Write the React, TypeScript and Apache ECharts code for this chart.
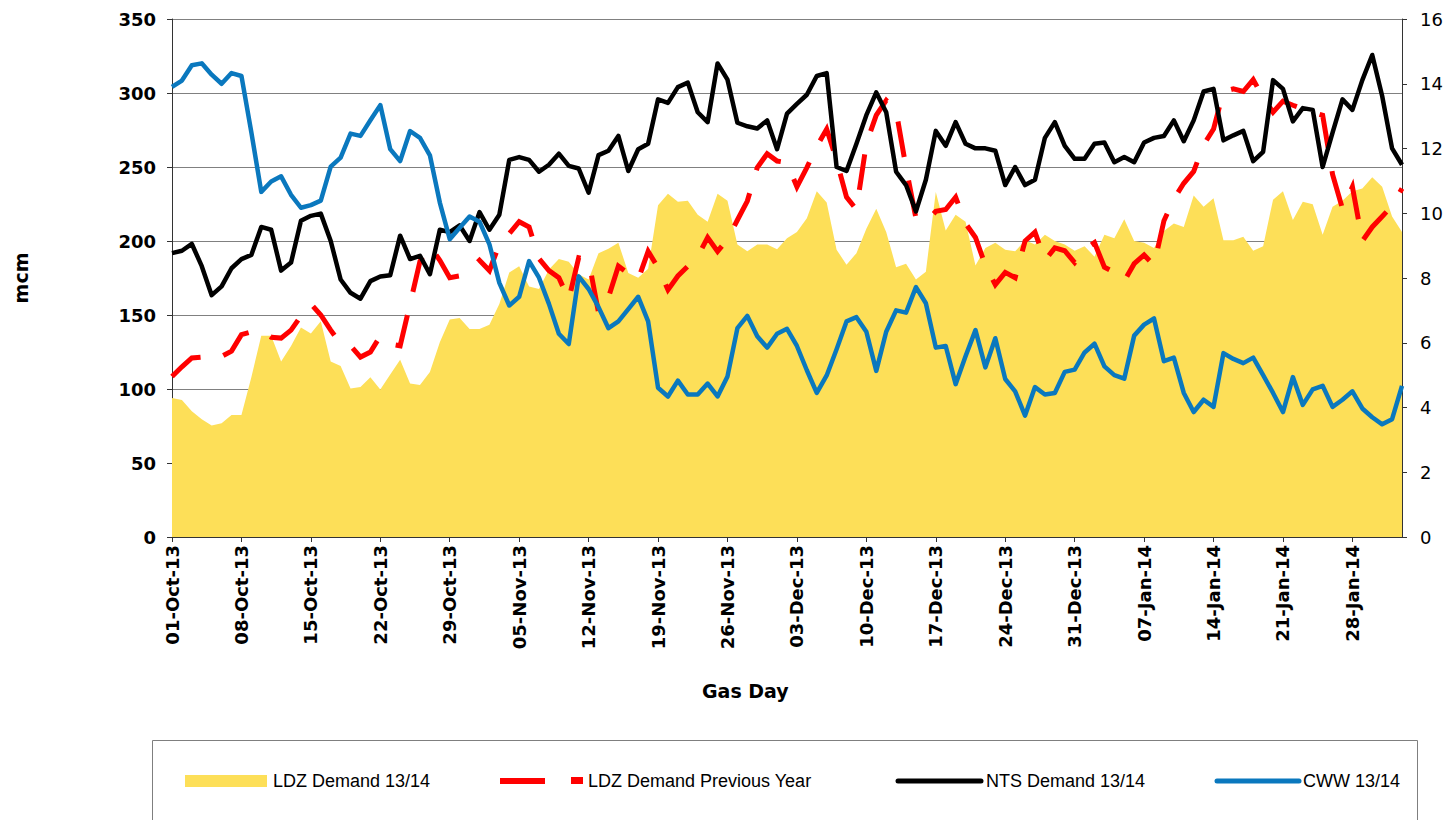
import React, { useEffect, useRef } from "react";
import * as echarts from "echarts";

// ---- Data ----
const START_DATE = "2013-10-01";
const DAY_COUNT = 125;
const MONTHS = ["Jan", "Feb", "Mar", "Apr", "May", "Jun", "Jul", "Aug", "Sep", "Oct", "Nov", "Dec"];

const ldzDemand = [
  94, 92.6, 85, 79.6, 75.3, 76.8, 82.4, 82.4, 108, 136, 136, 118.6, 129, 141.5, 137.5, 145.7, 118.6, 115.5, 100.4, 101.3,
  108, 99.7, 109.8, 119.7, 103.7, 102.7, 111.5, 131.6, 146.9, 148, 140.5, 140.5, 143.4, 157.5, 178.8, 183, 169.3, 167.5, 180.7, 187.8,
  185.9, 177.6, 174, 191.8, 194.8, 198.9, 178.3, 175.2, 181.2, 224.1, 231.9, 226.5, 227.2, 217.8, 213, 231.9, 227.2, 197.7, 193, 197.7,
  197.7, 194.5, 201.9, 206, 215.4, 233.6, 226, 194.1, 184, 191.8, 208.3, 221.8, 206, 182.3, 184.7, 174, 179.3, 233.1, 207.1, 217.8,
  213, 183.5, 195.3, 198.9, 194.1, 193, 200.5, 197.7, 204.3, 200, 197.7, 193.4, 196.5, 189.4, 204.3, 201.9, 214.7, 200, 198.9, 195.3,
  206.7, 211.9, 209.5, 230.7, 223.2, 228.9, 200.5, 200.5, 202.9, 193.4, 196.5, 227.9, 233.6, 214.2, 226.5, 224.8, 204.3, 223.2, 227.2, 233.6,
  235.5, 243, 236.6, 216.6, 206,
];

const ldzPrevYear = [
  108.4, 115, 121, 121.6, 124, 122, 125.6, 136.7, 138.6, 139.8, 135, 134.4, 139.8, 149.3, 157.5, 150, 139.8, 130.4, 129.2, 121.6,
  125, 135.8, 130.4, 129.2, 157.5, 186.3, 196.5, 187, 175.2, 176.4, 180, 187, 180, 197.7, 205, 213, 209.5, 188, 180, 175.2,
  160.4, 188.7, 187, 151.6, 162, 183, 178, 174, 193, 182, 167, 176.4, 183, 189.4, 202.4, 193, 201.2, 214.2, 227, 249.6,
  259, 254, 253, 236.6, 249.6, 263.8, 275.6, 254.4, 229.6, 221.3, 266, 285, 295, 288, 249.6, 215.4, 213, 220, 221.3, 229.6,
  211.9, 202.4, 183.5, 170.5, 178.8, 175.2, 200, 206, 187, 195.3, 193.4, 185.4, 194.1, 198.9, 182.3, 178.8, 172.9, 184.7, 190.6, 183.5,
  213.7, 228.4, 239, 247, 265, 275.6, 301, 302.8, 301, 309, 297, 287, 294.5, 291.7, 289.3, 287, 285, 245, 221.8, 236.6,
  200, 209.5, 216.6, 223.7, 235.5,
];

const ntsDemand = [
  191.8, 193.4, 198, 183, 163.4, 169.3, 181.6, 187.8, 190.6, 209.5, 207.6, 180, 185.4, 213.7, 217, 218.5, 200, 174, 165, 161,
  172.9, 176, 176.9, 203.6, 187.8, 190, 177.6, 207.6, 206, 210.5, 200, 219.5, 207.6, 217.8, 254.8, 256.7, 254.8, 246.8, 251.5, 259,
  250.8, 249, 232.6, 258, 261, 271, 247.3, 262, 265.7, 295.7, 293.3, 304, 307, 287, 280.3, 320, 309, 279.9, 277.5, 276,
  281.5, 262, 286, 292.6, 298.8, 311.5, 313.4, 250, 247.3, 265.7, 285, 300.4, 287, 246.8, 237.8, 220, 241.4, 274.4, 264.3, 280.3,
  265.7, 262.6, 262.6, 261, 237.8, 250, 237.8, 241.4, 269.7, 280.3, 264.3, 255.5, 255.5, 265.7, 266.6, 253.2, 256.7, 253.2, 266.6, 269.7,
  271, 281.5, 267.4, 281.5, 301, 302.8, 268, 271.4, 274.4, 253.9, 260.3, 308.7, 302.8, 280.8, 289.8, 288.6, 250, 273.3, 295.7, 288.6,
  308.7, 325.7, 298, 262.6, 251.5,
];

const cww = [
  13.9, 14.1, 14.57, 14.63, 14.28, 14.0, 14.33, 14.24, 12.5, 10.66, 10.98, 11.14, 10.57, 10.17, 10.25, 10.39, 11.44, 11.72, 12.46, 12.39,
  12.87, 13.34, 11.98, 11.61, 12.54, 12.33, 11.79, 10.33, 9.2, 9.55, 9.9, 9.74, 9.04, 7.85, 7.15, 7.42, 8.52, 8.01, 7.2, 6.28,
  5.96, 8.05, 7.66, 7.1, 6.45, 6.66, 7.04, 7.42, 6.66, 4.61, 4.34, 4.83, 4.4, 4.4, 4.74, 4.34, 4.96, 6.45, 6.83, 6.2,
  5.85, 6.28, 6.43, 5.9, 5.15, 4.45, 4.99, 5.8, 6.66, 6.79, 6.34, 5.13, 6.34, 7.0, 6.93, 7.72, 7.22, 5.85, 5.9, 4.72,
  5.58, 6.39, 5.24, 6.14, 4.88, 4.5, 3.75, 4.63, 4.4, 4.45, 5.1, 5.17, 5.7, 5.97, 5.27, 5.0, 4.89, 6.22, 6.56, 6.75,
  5.43, 5.54, 4.45, 3.86, 4.24, 4.02, 5.68, 5.5, 5.37, 5.54, 5.0, 4.45, 3.86, 4.94, 4.08, 4.56, 4.67, 4.02, 4.24, 4.5,
  3.97, 3.7, 3.48, 3.64, 4.67,
];

const leftAxisTicks = { min: 0, max: 350, interval: 50 };
const rightAxisTicks = { min: 0, max: 16, interval: 2 };

const seriesNames = ["LDZ Demand 13/14", "LDZ Demand Previous Year", "NTS Demand 13/14", "CWW 13/14"];
const yAxisTitle = "mcm";
const xAxisTitle = "Gas Day";

function buildDates(): string[] {
  const out: string[] = [];
  const [y, m, d] = START_DATE.split("-").map(Number);
  for (let i = 0; i < DAY_COUNT; i++) {
    const dt = new Date(Date.UTC(y, m - 1, d + i));
    const dd = String(dt.getUTCDate()).padStart(2, "0");
    const yy = String(dt.getUTCFullYear()).slice(2);
    out.push(`${dd}-${MONTHS[dt.getUTCMonth()]}-${yy}`);
  }
  return out;
}

const YELLOW = "#FDDF58";
const RED = "#FF0000";
const BLACK = "#000000";
const BLUE = "#0A78BE";

export default function App() {
  const ref = useRef<HTMLDivElement>(null);

  useEffect(() => {
    if (!ref.current) return;
    const chart = echarts.init(ref.current, undefined, { renderer: "svg" });
    const dates = buildDates();
    const legendFont = { fontFamily: "Liberation Sans", fontSize: 18, fill: "#000" };
    const legendY = 781;

    chart.setOption({
      animation: false,
      backgroundColor: "#ffffff",
      grid: { left: 172, right: 47, top: 19, bottom: 283, containLabel: false },
      xAxis: {
        type: "category",
        data: dates,
        boundaryGap: false,
        axisLine: { show: true, lineStyle: { color: "#333", width: 1 } },
        axisTick: { show: true, length: 5, interval: (i: number) => i % 7 === 0, lineStyle: { color: "#333" } },
        axisLabel: {
          interval: (i: number) => i % 7 === 0,
          rotate: 90,
          margin: 8,
          color: "#000",
          fontFamily: "DejaVu Sans",
          fontWeight: "bold",
          fontSize: 18,
        },
        splitLine: { show: false },
      },
      yAxis: [
        {
          type: "value",
          min: leftAxisTicks.min,
          max: leftAxisTicks.max,
          interval: leftAxisTicks.interval,
          name: yAxisTitle,
          nameLocation: "middle",
          nameRotate: 90,
          nameGap: 142,
          nameTextStyle: { fontFamily: "DejaVu Sans", fontWeight: "bold", fontSize: 19, color: "#000" },
          axisLine: { show: true, lineStyle: { color: "#333", width: 1 } },
          axisTick: { show: true, length: 5, lineStyle: { color: "#333" } },
          axisLabel: { margin: 16, color: "#000", fontFamily: "DejaVu Sans", fontWeight: "bold", fontSize: 18 },
          splitLine: { show: true, lineStyle: { color: "#808080", width: 1 } },
        },
        {
          type: "value",
          min: rightAxisTicks.min,
          max: rightAxisTicks.max,
          interval: rightAxisTicks.interval,
          position: "right",
          axisLine: { show: true, lineStyle: { color: "#333", width: 1 } },
          axisTick: { show: true, length: 5, lineStyle: { color: "#333" } },
          axisLabel: { margin: 18, color: "#000", fontFamily: "DejaVu Sans", fontSize: 18 },
          splitLine: { show: false },
        },
      ],
      series: [
        {
          name: seriesNames[0],
          type: "line",
          data: ldzDemand,
          yAxisIndex: 0,
          showSymbol: false,
          symbol: "none",
          lineStyle: { width: 0 },
          areaStyle: { color: YELLOW, opacity: 1 },
          silent: true,
        },
        {
          name: seriesNames[1],
          type: "line",
          data: ldzPrevYear,
          yAxisIndex: 0,
          symbol: "none",
          lineStyle: { color: RED, width: 5, type: [36, 24], cap: "butt", join: "miter" },
          silent: true,
        },
        {
          name: seriesNames[2],
          type: "line",
          data: ntsDemand,
          yAxisIndex: 0,
          symbol: "none",
          lineStyle: { color: BLACK, width: 4.5, join: "round" },
          silent: true,
        },
        {
          name: seriesNames[3],
          type: "line",
          data: cww,
          yAxisIndex: 1,
          symbol: "none",
          lineStyle: { color: BLUE, width: 4.5, join: "round" },
          silent: true,
        },
      ],
      graphic: [
        {
          type: "text",
          left: 702,
          top: 681,
          style: { text: xAxisTitle, fontFamily: "DejaVu Sans", fontWeight: "bold", fontSize: 19, fill: "#000" },
        },
        {
          type: "rect",
          shape: { x: 152.5, y: 740.5, width: 1265, height: 100 },
          style: { fill: "none", stroke: "#7f7f7f", lineWidth: 1 },
        },
        { type: "rect", shape: { x: 185, y: 775, width: 82, height: 12 }, style: { fill: YELLOW } },
        { type: "text", x: 273, y: legendY, style: { ...legendFont, text: seriesNames[0], verticalAlign: "middle" } },
        { type: "rect", shape: { x: 500, y: 778, width: 45, height: 6 }, style: { fill: RED } },
        { type: "rect", shape: { x: 571, y: 777, width: 12, height: 7 }, style: { fill: RED } },
        { type: "text", x: 588, y: legendY, style: { ...legendFont, text: seriesNames[1], verticalAlign: "middle" } },
        {
          type: "line",
          shape: { x1: 898, y1: 781, x2: 981, y2: 781 },
          style: { stroke: BLACK, lineWidth: 5, lineCap: "round" },
        },
        { type: "text", x: 986, y: legendY, style: { ...legendFont, text: seriesNames[2], verticalAlign: "middle" } },
        {
          type: "line",
          shape: { x1: 1217, y1: 781, x2: 1299, y2: 781 },
          style: { stroke: BLUE, lineWidth: 5, lineCap: "round" },
        },
        { type: "text", x: 1303, y: legendY, style: { ...legendFont, text: seriesNames[3], verticalAlign: "middle" } },
      ],
    });

    return () => {
      chart.dispose();
    };
  }, []);

  return (
    <div
      ref={ref}
      style={{ position: "absolute", left: 0, top: 0, width: 1449, height: 820, background: "#fff" }}
    />
  );
}
